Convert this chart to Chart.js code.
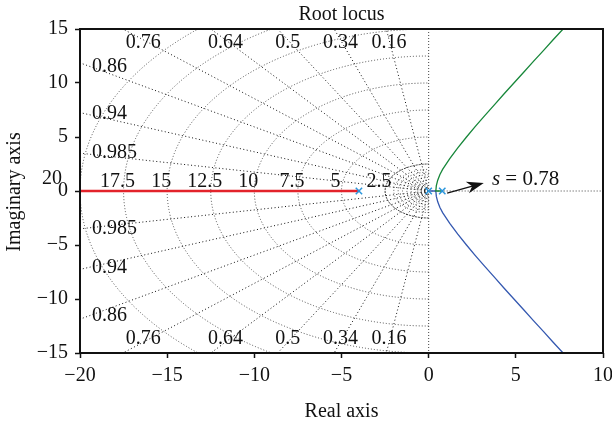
<!DOCTYPE html>
<html>
<head>
<meta charset="utf-8">
<script src="https://cdn.jsdelivr.net/npm/chart.js@4.4.1/dist/chart.umd.min.js"></script>
<style>
  html, body { margin: 0; padding: 0; background: #fff; }
</style>
</head>
<body>
<canvas id="rootLocus" width="612" height="426"></canvas>
<script>
// values
const dampingRatios = [0.16, 0.34, 0.5, 0.64, 0.76, 0.86, 0.94, 0.985];
const naturalFreqs = [2.5, 5, 7.5, 10, 12.5, 15, 17.5, 20];
const fineFreqs = [0.25, 0.5, 0.75, 1, 1.25, 1.5, 1.75, 2];

const polesRe = [-4, 0, 0.78];

const realBranchRe = [-4, -20];
const realBranchIm = [0, 0];

const upperBranchRe = [0.78, 0.41, 0.44, 0.52, 0.64, 0.80, 1.21, 1.67, 2.17, 2.69, 3.23, 3.78, 4.33, 4.89, 5.45, 6.01, 6.58, 7.14, 7.71, 8.28];
const upperBranchIm = [0, 0, 0.5, 1, 1.5, 2, 3, 4, 5, 6, 7, 8, 9, 10, 11, 12, 13, 14, 15, 16];

const lowerBranchRe = [0, 0.41, 0.44, 0.52, 0.64, 0.80, 1.21, 1.67, 2.17, 2.69, 3.23, 3.78, 4.33, 4.89, 5.45, 6.01, 6.58, 7.14, 7.71, 8.28];
const lowerBranchIm = [0, 0, -0.5, -1, -1.5, -2, -3, -4, -5, -6, -7, -8, -9, -10, -11, -12, -13, -14, -15, -16];

const markedGain = 's = 0.78';

const FONT = '"Liberation Serif", "Times New Roman", serif';
Chart.defaults.font.family = FONT;
Chart.defaults.font.size = 20;
Chart.defaults.color = '#111';

const toPoints = (re, im) => re.map((r, i) => ({ x: r, y: im[i] }));
const minusFmt = v => v < 0 ? '\u2212' + (-v) : String(v);

// damping / natural frequency grid (like matlab sgrid)
const sgrid = {
  id: 'sgrid',
  beforeDatasetsDraw(chart) {
    const { ctx, chartArea: a, scales: { x, y } } = chart;
    const ox = x.getPixelForValue(0), oy = y.getPixelForValue(0);
    const sx = x.getPixelForValue(1) - ox, sy = oy - y.getPixelForValue(1);
    ctx.save();
    ctx.beginPath();
    ctx.rect(a.left, a.top, a.width, a.height);
    ctx.clip();
    ctx.lineWidth = 1;

    ctx.strokeStyle = '#4a4a4a';
    ctx.setLineDash([1, 2]);
    naturalFreqs.concat(fineFreqs).forEach(w => {
      if (w === 2.5) return;
      ctx.beginPath();
      ctx.ellipse(ox, oy, w * sx, w * sy, 0, Math.PI / 2, Math.PI * 1.5);
      ctx.stroke();
    });
    ctx.strokeStyle = '#333';
    ctx.setLineDash([2, 1]);
    ctx.beginPath();
    ctx.ellipse(ox, oy, 2.5 * sx, 2.5 * sy, 0, Math.PI / 2, Math.PI * 1.5);
    ctx.stroke();

    ctx.strokeStyle = '#111';
    ctx.setLineDash([1, 2.5]);
    dampingRatios.forEach(z => {
      const s = Math.sqrt(1 - z * z);
      [1, -1].forEach(sg => {
        ctx.beginPath();
        ctx.moveTo(ox, oy);
        ctx.lineTo(ox - z * 40 * sx, oy - sg * s * 40 * sy);
        ctx.stroke();
      });
    });

    ctx.strokeStyle = '#444';
    ctx.setLineDash([1, 2]);
    ctx.beginPath();
    ctx.moveTo(ox, a.top); ctx.lineTo(ox, a.bottom);
    ctx.moveTo(ox, oy); ctx.lineTo(a.right, oy);
    ctx.stroke();
    ctx.restore();

    // grid labels
    ctx.save();
    ctx.fillStyle = '#111';
    ctx.font = '20px ' + FONT;
    ctx.textBaseline = 'middle';
    dampingRatios.forEach(z => {
      const t = Math.sqrt(1 - z * z) / z;
      const txt = String(z);
      let px, dy;
      if (-15 / t > -20) {
        ctx.textAlign = 'center';
        px = x.getPixelForValue(-14 / t);
        dy = oy - y.getPixelForValue(13.7);
      } else {
        ctx.textAlign = 'left';
        px = a.left + 12;
        dy = 19.1 * t * sy + 2;
      }
      ctx.fillText(txt, px, oy - dy);
      ctx.fillText(txt, px, oy + dy);
    });
    ctx.textBaseline = 'alphabetic';
    naturalFreqs.forEach(w => {
      const px = x.getPixelForValue(-w);
      if (px <= a.left + 1) {
        ctx.textAlign = 'right';
        ctx.fillText(String(w), a.left - 18, oy - 7);
      } else {
        ctx.textAlign = 'center';
        ctx.fillText(String(w), px - 6, oy - 4);
      }
    });
    ctx.restore();
  },
  afterDraw(chart) {
    const { ctx, chartArea: a, scales: { x, y } } = chart;
    ctx.save();
    ctx.strokeStyle = '#111';
    ctx.lineWidth = 2;
    ctx.strokeRect(a.left, a.top, a.width, a.height);

    // arrow + gain note
    const x0 = x.getPixelForValue(1.06), y0 = y.getPixelForValue(-0.19);
    const x1 = x.getPixelForValue(3.16), y1 = y.getPixelForValue(0.74);
    const ang = Math.atan2(y1 - y0, x1 - x0);
    ctx.lineWidth = 1.2;
    ctx.beginPath();
    ctx.moveTo(x0, y0);
    ctx.lineTo(x1 - 10 * Math.cos(ang), y1 - 10 * Math.sin(ang));
    ctx.stroke();
    ctx.translate(x1, y1);
    ctx.rotate(ang);
    ctx.fillStyle = '#111';
    ctx.beginPath();
    ctx.moveTo(0, 0);
    ctx.lineTo(-17, -6);
    ctx.lineTo(-12, 0);
    ctx.lineTo(-17, 6);
    ctx.closePath();
    ctx.fill();
    ctx.setTransform(1, 0, 0, 1, 0, 0);

    const tx = x.getPixelForValue(3.63), ty = y.getPixelForValue(0.53);
    ctx.textAlign = 'left';
    ctx.textBaseline = 'alphabetic';
    ctx.font = 'italic 21px ' + FONT;
    const parts = markedGain.split(' ');
    ctx.fillText(parts[0], tx, ty);
    const w0 = ctx.measureText(parts[0]).width;
    ctx.font = '21px ' + FONT;
    ctx.fillText(' ' + parts.slice(1).join(' '), tx + w0, ty);

    // titles
    ctx.font = '20px ' + FONT;
    ctx.textAlign = 'center';
    const cx = (a.left + a.right) / 2;
    ctx.fillText('Root locus', cx, 20);
    ctx.fillText('Real axis', cx, 417);
    ctx.translate(20, 192);
    ctx.rotate(-Math.PI / 2);
    ctx.fillText('Imaginary axis', 0, 0);
    ctx.restore();
  }
};

const ctx = document.getElementById('rootLocus').getContext('2d');
new Chart(ctx, {
  type: 'scatter',
  data: {
    datasets: [
      {
        label: 'poles',
        data: toPoints(polesRe, polesRe.map(() => 0)),
        showLine: false,
        pointStyle: 'crossRot',
        pointRadius: 4.5,
        pointBorderColor: '#2a96dc',
        pointBorderWidth: 1.5,
        order: 0
      },
      {
        label: 'upper',
        data: toPoints(upperBranchRe, upperBranchIm),
        showLine: true,
        pointRadius: 0,
        borderColor: '#17873a',
        borderWidth: 1.3,
        order: 1
      },
      {
        label: 'lower',
        data: toPoints(lowerBranchRe, lowerBranchIm),
        showLine: true,
        pointRadius: 0,
        borderColor: '#3458b0',
        borderWidth: 1.3,
        order: 2
      },
      {
        label: 'real',
        data: toPoints(realBranchRe, realBranchIm),
        showLine: true,
        pointRadius: 0,
        borderColor: '#e3232b',
        borderWidth: 2.5,
        order: 3
      }
    ]
  },
  options: {
    responsive: false,
    animation: false,
    layout: { padding: { left: 0, top: 29, right: 9, bottom: 0 } },
    plugins: { legend: { display: false }, tooltip: { enabled: false } },
    scales: {
      x: {
        type: 'linear',
        min: -20,
        max: 10,
        ticks: { stepSize: 5, callback: minusFmt, padding: 6, maxRotation: 0 },
        grid: { drawOnChartArea: false, drawTicks: true, tickLength: 5, tickColor: '#111', tickWidth: 1.5 },
        border: { display: false },
        afterFit(s) { s.height = 73; s.paddingLeft = 0; s.paddingRight = 0; }
      },
      y: {
        type: 'linear',
        min: -15,
        max: 15,
        ticks: { stepSize: 5, callback: minusFmt, padding: 7 },
        grid: { drawOnChartArea: false, drawTicks: true, tickLength: 5, tickColor: '#111', tickWidth: 1.5 },
        border: { display: false },
        afterFit(s) { s.width = 80; s.paddingTop = 0; s.paddingBottom = 0; }
      }
    }
  },
  plugins: [sgrid]
});
</script>
</body>
</html>
